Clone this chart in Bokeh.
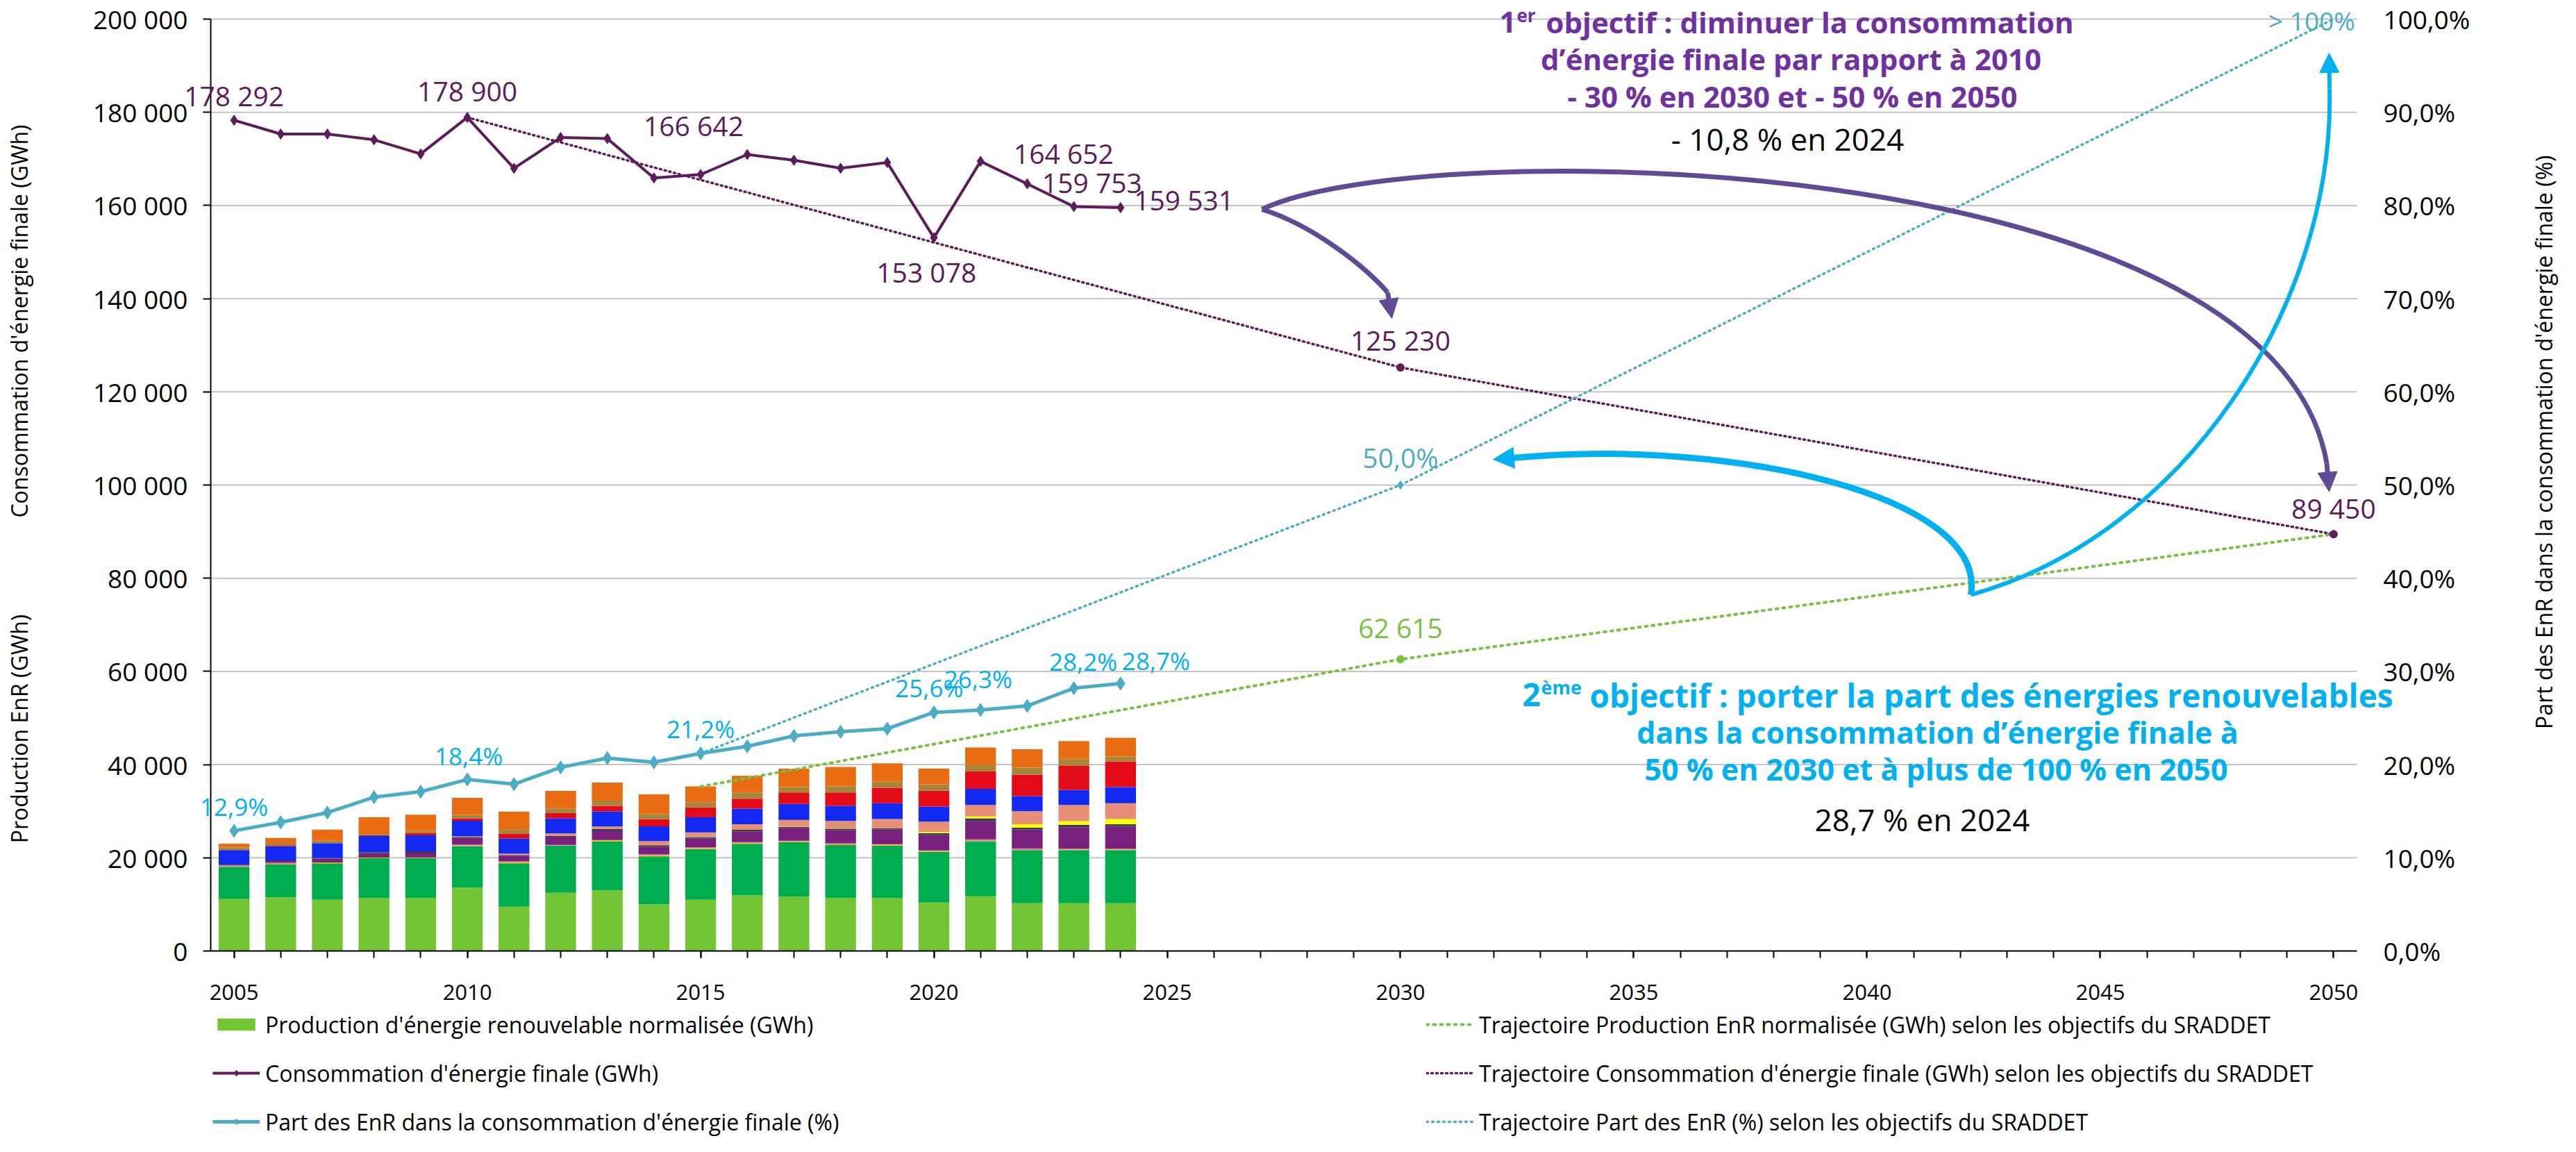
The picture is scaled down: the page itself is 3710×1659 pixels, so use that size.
import math
from bokeh.plotting import figure
from bokeh.models import (Range1d, LinearAxis, FixedTicker, ColumnDataSource, Label,
                          Legend, LegendItem, Arrow, NormalHead)
from bokeh.embed import file_html
from bokeh.resources import INLINE

# ---------------- DATA ----------------
years = list(range(2005, 2025))
# production EnR normalisée par filière (GWh), de bas en haut de la pile
filiere_01 = [11140, 11530, 10990, 11390, 11390, 13610, 9500, 12470, 13020, 10000,
              10990, 11930, 11680, 11390, 11390, 10400, 11730, 10250, 10250, 10250]
filiere_02 = [6930, 7030, 7820, 8510, 8510, 8910, 9310, 10100, 10540, 10300,
              10890, 11040, 11680, 11380, 11240, 10890, 11830, 11380, 11380, 11380]
filiere_03 = [100, 100, 200, 150, 100, 100, 250, 100, 200, 250,
              200, 250, 200, 100, 200, 200, 100, 100, 150, 150]
filiere_04 = [150, 250, 0, 0, 100, 250, 150, 100, 50, 150,
              150, 150, 100, 250, 100, 100, 300, 300, 150, 150]
filiere_05 = [200, 400, 800, 940, 1000, 1390, 1250, 1730, 2030, 1680,
              1880, 2280, 2770, 2770, 3170, 3270, 3960, 4060, 4650, 4900]
filiere_06 = [50, 150, 150, 200, 300, 200, 150, 200, 300, 300,
              300, 350, 200, 350, 250, 400, 540, 350, 500, 350]
filiere_07 = [0, 0, 0, 0, 0, 0, 0, 0, 0, 0,
              0, 0, 100, 0, 0, 250, 400, 740, 790, 1140]
filiere_08 = [0, 0, 0, 0, 0, 150, 300, 540, 590, 890,
              1040, 1190, 1390, 1680, 1980, 2230, 2480, 2820, 3470, 3370]
filiere_09 = [3070, 3020, 3170, 3460, 3420, 3320, 3220, 3220, 3220, 3170,
              3220, 3370, 3420, 3220, 3370, 3270, 3470, 3220, 3220, 3470]
filiere_10 = [50, 200, 0, 200, 450, 540, 990, 1140, 1190, 1530,
              2130, 2130, 2480, 2870, 3320, 3370, 3760, 4600, 5150, 5540]
filiere_11 = [500, 500, 540, 400, 540, 740, 940, 990, 1140, 1140,
              1140, 1340, 1140, 1340, 1290, 1390, 1340, 1530, 1390, 1040]
filiere_12 = [840, 1090, 2380, 3420, 3420, 3660, 3860, 3760, 3860, 4210,
              3370, 3560, 3960, 4160, 3960, 3370, 3760, 3960, 3960, 4010]

consommation = [178292, 175330, 175330, 174100, 171060, 178900, 167970, 174600, 174350, 165900,
                166642, 170940, 169700, 167990, 169220, 153078, 169470, 164652, 159753, 159531]
part_enr = [12.9, 13.8, 14.85, 16.5, 17.1, 18.4, 17.9, 19.7, 20.7, 20.25,
            21.2, 21.96, 23.08, 23.52, 23.85, 25.6, 25.86, 26.3, 28.2, 28.7]

traj_cons_years = [2010, 2030, 2050]
traj_cons = [178900, 125230, 89450]
traj_prod_years = [2015, 2030, 2050]
traj_prod = [35290, 62615, 89450]
traj_part_years = [2015, 2030, 2050]
traj_part = [21.2, 50.0, 100.0]

x_ticks = list(range(2005, 2051, 5))
x_minor = list(range(2005, 2051))
y_ticks = list(range(0, 200001, 20000))
pct_ticks = list(range(0, 101, 10))

legend_labels = [
    "Production d'énergie renouvelable normalisée (GWh)",
    "Consommation d'énergie finale (GWh)",
    "Part des EnR dans la consommation d'énergie finale (%)",
    "Trajectoire Production EnR normalisée (GWh) selon les objectifs du SRADDET",
    "Trajectoire Consommation d'énergie finale (GWh) selon les objectifs du SRADDET",
    "Trajectoire Part des EnR (%) selon les objectifs du SRADDET",
]

# ---------------- STYLE ----------------
FONT = "Open Sans"
PURPLE = "#5E1A5C"
SHARE = "#4BACC6"
SHARE_TXT = "#00B0F0"
GREEN_T = "#7AC143"
OBJ1 = "#7030A0"
OBJ2 = "#00B0F0"
ARROW_P = "#604A96"
bar_colors = ["#73C536", "#00AD4E", "#F7B500", "#E06C9F", "#77217D", "#2F3F47",
              "#FFFF00", "#E88F78", "#1129F0", "#E20A17", "#A6853A", "#E96C13"]


def fr_int(v):
    return f"{int(round(v)):,}".replace(",", " ")


def fr_pct(v):
    return f"{v:.1f}%".replace(".", ",")


# ---------------- GEOMETRY (frame covers whole canvas, axes fixed inside) ----------------
W, H = 3690, 1640
PL, PR, PT, PB = 303, 3394, 27, 1369   # plot area in canvas pixels
X0, X1 = 2004.5, 2050.5
YMAX = 200000
ppx = (PR - PL) / (X1 - X0)
ppy = (PB - PT) / YMAX
xr = Range1d(X0 - PL / ppx, X1 + (W - PR) / ppx)
yr = Range1d(-(H - PB) / ppy, YMAX + PT / ppy)
pr = Range1d(yr.start / 2000.0, yr.end / 2000.0)


def fx(px):      # page pixel x -> year
    return X0 + (px - 8 - PL) / ppx


def fy(py):      # page pixel y -> GWh
    return (PB - (py - 8)) / ppy


def gwh(dpx):    # pixel offset -> GWh
    return dpx / ppy


def pct(dpx):    # pixel offset -> %
    return dpx / ppy / 2000.0


p = figure(width=W, height=H, output_backend="svg", toolbar_location=None,
           x_range=xr, y_range=yr, x_axis_type=None, y_axis_type=None,
           min_border=0, min_border_left=0, min_border_right=0, min_border_top=0, min_border_bottom=0,
           background_fill_color="white", border_fill_color="white", outline_line_color=None)
p.extra_y_ranges = {"pct": pr}

# grid lines
grid_vals = [t for t in y_ticks if t > 0]
p.segment(x0=[X0] * len(grid_vals), y0=grid_vals, x1=[X1] * len(grid_vals), y1=grid_vals,
          line_color="#C4C4C4", line_width=2, level="underlay")

# axes
xa = LinearAxis(fixed_location=0, bounds=(X0, X1),
                ticker=FixedTicker(ticks=x_ticks, minor_ticks=x_minor),
                major_label_overrides={t: str(t) for t in x_ticks},
                axis_line_color="black", axis_line_width=2,
                major_tick_out=10, major_tick_in=0, minor_tick_out=10, minor_tick_in=0,
                major_tick_line_width=2, minor_tick_line_width=2, minor_tick_line_color="black",
                major_label_text_font=FONT, major_label_text_font_size="31px",
                major_label_text_color="black", major_label_standoff=38)
p.add_layout(xa, "below")

ya = LinearAxis(fixed_location=X0, bounds=(0, YMAX), ticker=FixedTicker(ticks=y_ticks),
                major_label_overrides={t: fr_int(t) for t in y_ticks},
                axis_line_color="black", axis_line_width=2,
                major_tick_out=11, major_tick_in=0, major_tick_line_width=2,
                minor_tick_line_color=None,
                major_label_text_font=FONT, major_label_text_font_size="37px",
                major_label_text_color="black", major_label_standoff=22)
p.add_layout(ya, "left")

ra = LinearAxis(y_range_name="pct", fixed_location=X1, bounds=(0, 100),
                ticker=FixedTicker(ticks=pct_ticks),
                major_label_overrides={t: f"{t},0%" for t in pct_ticks},
                axis_line_color=None, major_tick_line_color=None, minor_tick_line_color=None,
                major_tick_out=0, major_tick_in=0,
                major_label_text_font=FONT, major_label_text_font_size="37px",
                major_label_text_color="black", major_label_standoff=38)
p.add_layout(ra, "right")

# bars
keys = [f"filiere_{i:02d}" for i in range(1, 13)]
series = [filiere_01, filiere_02, filiere_03, filiere_04, filiere_05, filiere_06,
          filiere_07, filiere_08, filiere_09, filiere_10, filiere_11, filiere_12]
src = ColumnDataSource(dict(year=years, **{k: s for k, s in zip(keys, series)}))
bar_rs = p.vbar_stack(keys, x="year", width=0.66, fill_color=bar_colors, line_color=None, source=src)

# trajectories (dotted)
r_tp = p.line(traj_prod_years, traj_prod, line_color=GREEN_T, line_width=4, line_dash="3 7", line_cap="round")
p.scatter(traj_prod_years[1:2], traj_prod[1:2], marker="circle", size=11, color=GREEN_T)
r_tc = p.line(traj_cons_years, traj_cons, line_color=PURPLE, line_width=3.5, line_dash="2 5", line_cap="round")
p.scatter(traj_cons_years[1:], traj_cons[1:], marker="circle", size=11, color=PURPLE)
r_tpart = p.line(traj_part_years, traj_part, y_range_name="pct", line_color=SHARE, line_width=3.5,
                 line_dash="2 6", line_cap="round")
p.scatter(traj_part_years[1:2], traj_part[1:2], y_range_name="pct", marker="diamond", size=12, color=SHARE)

# actual series
r_cl = p.line(years, consommation, line_color=PURPLE, line_width=4)
r_cm = p.scatter(years, consommation, marker="diamond", size=15, color=PURPLE)
r_sl = p.line(years, part_enr, y_range_name="pct", line_color=SHARE, line_width=5)
r_sm = p.scatter(years, part_enr, y_range_name="pct", marker="diamond", size=19, color=SHARE)


def lab(x, y, text, size, color, rng="default", align="center", style="normal",
        font=FONT, angle=0.0, baseline="middle"):
    p.add_layout(Label(x=x, y=y, text=text, y_range_name=rng, text_font=font,
                       text_font_size=size, text_color=color, text_align=align,
                       text_baseline=baseline, text_font_style=style, angle=angle))


# consumption data labels (index -> offset in years, pixels up)
cons_lab = {0: (0.0, 36), 5: (0.0, 39), 10: (-0.15, 71), 15: (-0.16, -49),
            17: (0.78, 44), 18: (0.39, 35), 19: (1.36, 12)}
for i, (dx, dpx) in cons_lab.items():
    lab(years[i] + dx, consommation[i] + gwh(dpx), fr_int(consommation[i]), "39px", PURPLE)

share_lab = {0: (0.0, 35), 5: (0.03, 34), 10: (0.0, 35), 15: (-0.1, 35),
             17: (-1.05, 39), 18: (0.2, 39), 19: (0.76, 33)}
for i, (dx, dpx) in share_lab.items():
    lab(years[i] + dx, part_enr[i] + pct(dpx), fr_pct(part_enr[i]), "35px", SHARE_TXT, rng="pct")

lab(traj_cons_years[1], traj_cons[1] + gwh(40), fr_int(traj_cons[1]), "39px", PURPLE)
lab(traj_cons_years[2], traj_cons[2] + gwh(38), fr_int(traj_cons[2]), "39px", PURPLE)
lab(traj_prod_years[1], traj_prod[1] + gwh(46), fr_int(traj_prod[1]), "39px", GREEN_T)
lab(traj_part_years[1], traj_part[1] + pct(40), fr_pct(traj_part[1]), "39px", SHARE, rng="pct")
lab(fx(3337), fy(37), "> 100%", "37px", SHARE)

# axis titles
lab(fx(35), fy(470), "Consommation d'énergie finale (GWh)", "32px", "black", angle=math.pi / 2)
lab(fx(35), fy(1057), "Production EnR (GWh)", "32px", "black", angle=math.pi / 2)
lab(fx(3671), fy(640), "Part des  EnR dans la consommation d'énergie finale (%)", "32px", "black",
    angle=math.pi / 2)

# objective 1 text block
lab(fx(2167), fy(39), "1", "42px", OBJ1, align="left", style="bold")
lab(fx(2192), fy(29), "er", "26px", OBJ1, align="left", style="bold")
lab(fx(2234), fy(39), "objectif : diminuer la consommation", "42px", OBJ1, align="left", style="bold")
lab(fx(2587), fy(92), "d\u2019énergie finale par rapport à 2010", "42px", OBJ1, style="bold")
lab(fx(2589), fy(146), "- 30 % en 2030 et - 50 % en 2050", "42px", OBJ1, style="bold")
lab(fx(2582), fy(207), "- 10,8 % en 2024", "44px", "black")

# objective 2 text block
lab(fx(2200), fy(1008), "2", "46px", OBJ2, align="left", style="bold")
lab(fx(2227), fy(997), "ème", "27px", OBJ2, align="left", style="bold")
lab(fx(2297), fy(1008), "objectif : porter la part des énergies renouvelables", "46px", OBJ2,
    align="left", style="bold")
lab(fx(2798), fy(1062), "dans la consommation d\u2019énergie finale à", "43px", OBJ2, style="bold")
lab(fx(2796), fy(1115), "50 % en 2030 et à plus de 100 % en 2050", "43px", OBJ2, style="bold")
lab(fx(2776), fy(1187), "28,7 % en 2024", "44px", "black")

# curved arrows (annotation), control points given in page pixels
p.bezier(x0=[fx(1825), fx(1825)], y0=[fy(309), fy(309)],
         x1=[fx(2006), fx(3358.6)], y1=[fy(428.6), fy(675)],
         cx0=[fx(1900), fx(2050.2)], cy0=[fy(332), fy(200)],
         cx1=[fx(1975), fx(3280)], cy1=[fy(393), fy(220)],
         line_color=ARROW_P, line_width=7)
p.add_layout(Arrow(end=NormalHead(size=28, fill_color=ARROW_P, line_color=ARROW_P),
                   x_start=fx(2006), y_start=fy(428.6), x_end=fx(2012), y_end=fy(466),
                   line_color=ARROW_P, line_width=7))
p.add_layout(Arrow(end=NormalHead(size=28, fill_color=ARROW_P, line_color=ARROW_P),
                   x_start=fx(3358.6), y_start=fy(675), x_end=fx(3362), y_end=fy(715.5),
                   line_color=ARROW_P, line_width=7))

p.bezier(x0=[fx(2846)], y0=[fy(864)], x1=[fx(2199)], y1=[fy(666)],
         cx0=[fx(2870)], cy0=[fy(720)], cx1=[fx(2500)], cy1=[fy(640)],
         line_color=OBJ2, line_width=9)
p.add_layout(Arrow(end=NormalHead(size=30, fill_color=OBJ2, line_color=OBJ2),
                   x_start=fx(2199), y_start=fy(666), x_end=fx(2158), y_end=fy(669),
                   line_color=OBJ2, line_width=9))
p.bezier(x0=[fx(2846)], y0=[fy(864)], x1=[fx(3362.6)], y1=[fy(135)],
         cx0=[fx(3150)], cy0=[fy(780)], cx1=[fx(3370)], cy1=[fy(450)],
         line_color=OBJ2, line_width=6)
p.add_layout(Arrow(end=NormalHead(size=28, fill_color=OBJ2, line_color=OBJ2),
                   x_start=fx(3362.6), y_start=fy(135), x_end=fx(3362), y_end=fy(84),
                   line_color=OBJ2, line_width=6))

# legends
common = dict(padding=0, margin=0, spacing=26, glyph_height=22, glyph_width=68,
              label_height=44, label_standoff=8, label_text_font=FONT,
              label_text_font_size="32px", label_text_color="black",
              background_fill_alpha=0, border_line_alpha=0)
leg1 = Legend(items=[LegendItem(label=legend_labels[0], renderers=[bar_rs[0]]),
                     LegendItem(label=legend_labels[1], renderers=[r_cl, r_cm]),
                     LegendItem(label=legend_labels[2], renderers=[r_sl, r_sm])],
              location=(306, 3), **common)
leg2 = Legend(items=[LegendItem(label=legend_labels[3], renderers=[r_tp]),
                     LegendItem(label=legend_labels[4], renderers=[r_tc]),
                     LegendItem(label=legend_labels[5], renderers=[r_tpart])],
              location=(2054, 3), **common)
p.add_layout(leg1, "center")
p.add_layout(leg2, "center")

open("out.html", "w").write(file_html(p, INLINE))
